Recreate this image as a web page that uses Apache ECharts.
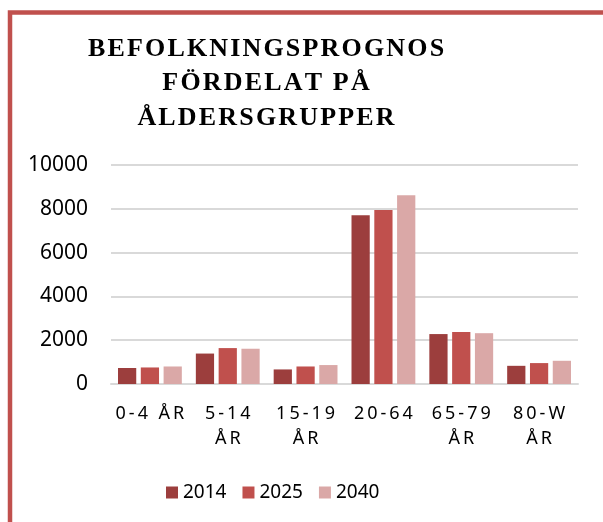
<!DOCTYPE html>
<html>
<head>
<meta charset="utf-8">
<script src="https://cdn.jsdelivr.net/npm/echarts@6/dist/echarts.min.js"></script>
<style>
  html, body { margin: 0; padding: 0; background: #fff; }
  #chart { width: 603px; height: 522px; }
</style>
</head>
<body>
<div id="chart"></div>
<script>
// åldersgrupper och prognos per år
const categories = ["0-4 ÅR", "5-14\nÅR", "15-19\nÅR", "20-64", "65-79\nÅR", "80-W\nÅR"];
const years = ["2014", "2025", "2040"];
const values2014 = [730, 1390, 665, 7710, 2280, 830];
const values2025 = [755, 1640, 800, 7940, 2380, 955];
const values2040 = [800, 1610, 865, 8620, 2320, 1060];
const yTicks = { min: 0, max: 10000, interval: 2000 };

const titleLines = ["BEFOLKNINGSPROGNOS", "FÖRDELAT PÅ", "ÅLDERSGRUPPER"];

// spärrad text: smala mellanrum mellan tecknen
const spaced = (s, gap) => s.split("\n").map((line) => line.split("").join(gap)).join("\n");

const colors = ["#9C3E3D", "#C0504D", "#DAA8A7"];
const chart = echarts.init(document.getElementById("chart"));

chart.setOption({
  animation: false,
  color: colors,
  graphic: [
    {
      // ram runt diagrammet
      type: "rect",
      shape: { x: 10, y: 12.5, width: 800, height: 800 },
      style: { fill: "none", stroke: "#C0504D", lineWidth: 4.5 }
    },
    {
      type: "text",
      x: 266,
      y: 32,
      style: {
        text: titleLines.map((l) => spaced(l, "\u200A")).join("\n"),
        font: "bold 26px 'Liberation Serif'",
        fill: "#000",
        align: "center",
        lineHeight: 34.5
      }
    }
  ],
  grid: { left: 111, right: 25, top: 165, bottom: 138 },
  legend: {
    data: years,
    left: 161,
    top: 478,
    icon: "rect",
    itemWidth: 12,
    itemHeight: 12,
    itemGap: 16,
    textStyle: { fontFamily: "Noto Sans", fontSize: 19, color: "#000" }
  },
  xAxis: {
    type: "category",
    data: categories,
    axisLine: { lineStyle: { color: "#D9D9D9", width: 2 } },
    axisTick: { show: false },
    axisLabel: {
      interval: 0,
      margin: 17,
      fontFamily: "Noto Sans",
      fontSize: 18,
      lineHeight: 25,
      color: "#000",
      formatter: (v) => spaced(v, "\u2009")
    }
  },
  yAxis: {
    type: "value",
    min: yTicks.min,
    max: yTicks.max,
    interval: yTicks.interval,
    axisLine: { show: false },
    axisTick: { show: false },
    splitLine: { lineStyle: { color: "#D9D9D9", width: 2 } },
    axisLabel: {
      margin: 23,
      fontFamily: "Noto Sans",
      fontSize: 21,
      color: "#000",
      formatter: (v) => String(v)
    }
  },
  series: [
    { name: years[0], type: "bar", data: values2014, barGap: "25%", barCategoryGap: "18%" },
    { name: years[1], type: "bar", data: values2025, barGap: "25%", barCategoryGap: "18%" },
    { name: years[2], type: "bar", data: values2040, barGap: "25%", barCategoryGap: "18%" }
  ]
});
</script>
</body>
</html>
